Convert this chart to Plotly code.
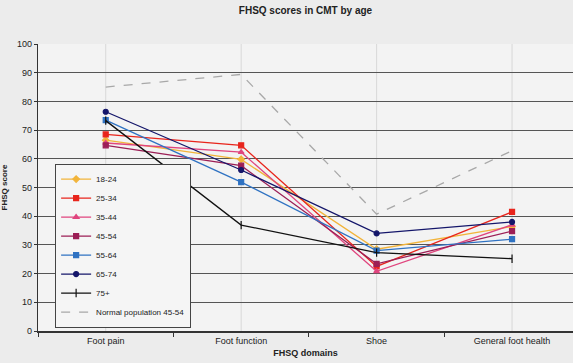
import plotly.graph_objects as go

categories = ["Foot pain", "Foot function", "Shoe", "General foot health"]

s_18_24 = [66.5, 59.8, 28.5, 36.4]
s_25_34 = [68.5, 64.7, 22.5, 41.5]
s_35_44 = [65.5, 62.3, 20.8, 37.0]
s_45_54 = [64.7, 57.6, 23.4, 34.8]
s_55_64 = [73.5, 51.9, 28.0, 32.0]
s_65_74 = [76.4, 56.1, 34.0, 38.0]
s_75p = [73.3, 36.9, 27.3, 25.2]
s_normal = [85.0, 89.4, 40.7, 62.8]

series = [
    ("18-24", s_18_24, "#f2b43a", "diamond", 5),
    ("25-34", s_25_34, "#e8251c", "square", 5),
    ("35-44", s_35_44, "#e0457e", "triangle-up", 5),
    ("45-54", s_45_54, "#9c1f56", "square", 5),
    ("55-64", s_55_64, "#2f72c2", "square", 5),
    ("65-74", s_65_74, "#14166a", "circle", 5),
    ("75+", s_75p, "#111111", "line-ns", 6),
]

fig = go.Figure()
for name, vals, col, sym, sz in series:
    fig.add_trace(go.Scatter(
        x=categories, y=vals, name=name, mode="lines+markers",
        line=dict(color=col, width=1.3),
        marker=dict(symbol=sym, size=sz, color=col, line=dict(color=col, width=1.2)),
    ))
fig.add_trace(go.Scatter(
    x=categories, y=s_normal, name="Normal population 45-54", mode="lines",
    line=dict(color="#a8a8a8", width=1.3, dash="dash"),
))

for c in categories:
    fig.add_shape(type="line", xref="x", yref="paper", x0=c, x1=c, y0=0, y1=1,
                  line=dict(color="#d8d8d8", width=1), layer="below")

fig.update_layout(
    width=573, height=363,
    margin=dict(l=38, r=0, t=44, b=32, autoexpand=False),
    paper_bgcolor="#ececec", plot_bgcolor="#f3f3f3",
    font=dict(family="Liberation Sans, Arial, sans-serif", size=9, color="#222222"),
    title=dict(text="<b>FHSQ scores in CMT by age</b>", x=0.5, xanchor="center",
               xref="paper", y=0.97, yanchor="middle", font=dict(size=10)),
    showlegend=True,
    legend=dict(x=0.032, y=0.012, xanchor="left", yanchor="bottom",
                bgcolor="#f5f5f5", bordercolor="#444444", borderwidth=1,
                font=dict(size=8), tracegroupgap=0, itemwidth=30),
    xaxis=dict(range=[-0.5, 3.45], showgrid=False, showline=True, linecolor="#333333",
               linewidth=1.5, ticks="outside", ticklen=4, tickson="boundaries",
               tickcolor="#333333", tickfont=dict(size=9),
               title=dict(text="<b>FHSQ domains</b>", font=dict(size=9), standoff=5)),
    yaxis=dict(range=[0, 100], dtick=10, showgrid=True, gridcolor="#555555", gridwidth=1,
               showline=True, linecolor="#333333", linewidth=1.2, zeroline=False,
               ticks="outside", ticklen=3, tickcolor="#333333",
               title=dict(text="<b>FHSQ score</b>", font=dict(size=8), standoff=8)),
)

fig.write_html("out.html", config={"displayModeBar": False},
               post_script="document.body.style.margin='0';document.body.style.background='#ececec';")
